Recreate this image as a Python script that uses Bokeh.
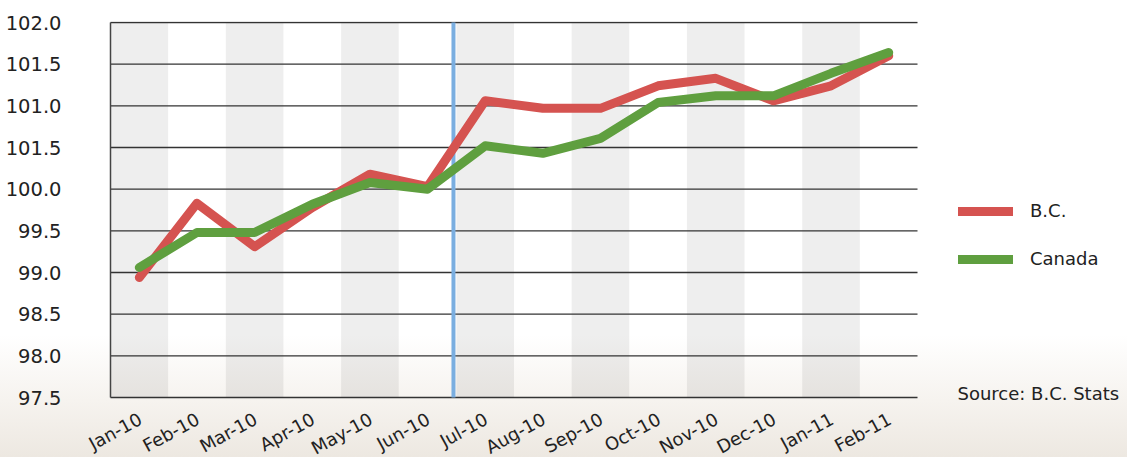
from bokeh.plotting import figure
from bokeh.models import Range1d, FixedTicker, Legend, LegendItem, Label
from bokeh.core.properties import value
from bokeh.embed import file_html
from bokeh.resources import INLINE

months = ["Jan-10", "Feb-10", "Mar-10", "Apr-10", "May-10", "Jun-10", "Jul-10",
          "Aug-10", "Sep-10", "Oct-10", "Nov-10", "Dec-10", "Jan-11", "Feb-11"]
bc = [98.94, 99.83, 99.31, 99.78, 100.18, 100.03, 101.06, 100.97, 100.97,
      101.24, 101.33, 101.06, 101.24, 101.60]
canada = [99.06, 99.48, 99.48, 99.82, 100.08, 100.00, 100.52, 100.43, 100.61,
          101.04, 101.12, 101.12, 101.39, 101.64]
y_ticks = [97.5, 98.0, 98.5, 99.0, 99.5, 100.0, 100.5, 101.0, 101.5, 102.0]
y_tick_labels = ["97.5", "98.0", "98.5", "99.0", "99.5", "100.0", "101.5", "101.0", "101.5", "102.0"]
y_min, y_max = 97.5, 102.0
marker_month = 6  # boundary between Jun-10 and Jul-10

FONT = "DejaVu Sans"
TXT = "#222222"

n = len(months)
xs = [i + 0.5 for i in range(n)]          # category centres
# the frame is extended (left/bottom: month labels, right: legend area) so that every
# text sits inside it; the chart area itself is x 0..n, y y_min..y_max
px_x = 807 / n                             # pixels per month
px_y = 375 / (y_max - y_min)               # pixels per unit
x_lo, x_hi = -38 / px_x, 1017 / px_x
y_hi = y_max + 1 / px_y
y_lo = y_hi - 436 / px_y

p = figure(width=1127, height=457,
           x_range=Range1d(x_lo, x_hi), y_range=Range1d(y_lo, y_hi),
           output_backend="svg", toolbar_location=None,
           min_border_left=72, min_border_right=0, min_border_top=21, min_border_bottom=0)
p.styles = {"background": "linear-gradient(to bottom, #ffffff 0px, #ffffff 335px, #f6f3ef 400px, #ede8e1 457px, #ede8e1 100%)"}
p.border_fill_color = None
p.background_fill_color = None
p.outline_line_color = None
p.xgrid.grid_line_color = None
p.ygrid.grid_line_color = None
p.xaxis.visible = False

# alternating bands
p.vbar(x=xs[::2], width=1, bottom=y_min, top=y_max, fill_color="black",
       fill_alpha=0.065, line_color=None)

# horizontal grid lines and left border over the chart area only
p.segment(x0=[0] * len(y_ticks), x1=[n] * len(y_ticks), y0=y_ticks, y1=y_ticks,
          line_color="#333333", line_width=1.3)
p.segment(x0=[0], x1=[0], y0=[y_min], y1=[y_max], line_color="#444444", line_width=1.5)

# blue marker line
p.segment(x0=[marker_month - 0.05], x1=[marker_month - 0.05], y0=[y_min], y1=[y_max],
          line_color="#7aaee0", line_width=4)

r_bc = p.line(xs, bc, line_color="#d55350", line_width=9, line_cap="round", line_join="round")
r_ca = p.line(xs, canada, line_color="#5f9f3f", line_width=9, line_cap="round", line_join="round")

# month labels
p.text(x=xs, y=[y_min] * n, text=months, angle=0.5, text_align="right",
       text_baseline="middle", y_offset=20, x_offset=1, text_font=value(FONT),
       text_font_size="18px", text_color=TXT)

# y axis
p.yaxis.ticker = FixedTicker(ticks=y_ticks)
p.yaxis.major_label_overrides = {t: l for t, l in zip(y_ticks, y_tick_labels)}
p.yaxis.major_tick_line_color = None
p.yaxis.minor_tick_line_color = None
p.yaxis.axis_line_color = None
p.yaxis.major_label_standoff = 5
p.yaxis.major_label_text_font = FONT
p.yaxis.major_label_text_font_size = "19.5px"
p.yaxis.major_label_text_color = TXT

legend = Legend(items=[LegendItem(label="B.C.", renderers=[r_bc]),
                       LegendItem(label="Canada", renderers=[r_ca])],
                location=(886, 188), orientation="vertical", padding=0, margin=0,
                spacing=27, glyph_width=55, glyph_height=20, label_height=20,
                label_standoff=17, border_line_color=None, background_fill_alpha=0,
                label_text_font=FONT, label_text_font_size="18px", label_text_color=TXT)
p.add_layout(legend, "center")

p.add_layout(Label(x=n, y=y_min, x_units="data", y_units="data", x_offset=40, y_offset=4,
                   text="Source: B.C. Stats", text_font=FONT, text_font_size="18px",
                   text_color=TXT, text_baseline="middle", text_align="left"))

open("out.html", "w").write(file_html(p, INLINE))
